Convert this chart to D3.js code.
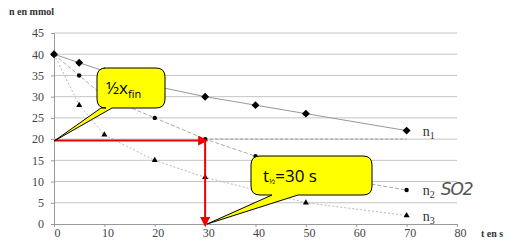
<!DOCTYPE html>
<html><head><meta charset="utf-8">
<script src="https://cdn.jsdelivr.net/npm/d3@7"></script>
<style>body{margin:0;background:#fff}svg{display:block}</style>
</head><body>
<svg id="c" width="517" height="248"></svg>
<script>
const times = [0, 5, 10, 20, 30, 40, 50, 70];
const n1 = [40, 38, 36, 32.5, 30, 28, 26, 22];
const n2 = [40, 35, 30, 25, 20, 16, 12, 8];
const n3 = [40, 28, 21, 15, 11, 8, 5, 2];
const xTicks = [0, 10, 20, 30, 40, 50, 60, 70, 80];
const yTicks = [0, 5, 10, 15, 20, 25, 30, 35, 40, 45];
const seriesNames = ["1", "2", "3"];
const halfTime = 30, halfValue = 20;

const svg = d3.select("#c");
const x = d3.scaleLinear().domain([0, 80]).range([54, 457]);
const y = d3.scaleLinear().domain([0, 45]).range([224, 33]);
const serif = "'Liberation Serif', 'Times New Roman', serif";

// gridlines
svg.append("g").selectAll("line").data(yTicks.filter(d => d > 0)).join("line")
  .attr("x1", x(0)).attr("x2", x(80)).attr("y1", d => y(d)).attr("y2", d => y(d))
  .attr("stroke", "#c4c4c4").attr("stroke-width", 1);

// axes
const xa = svg.append("g").attr("transform", `translate(0,${y(0)})`)
  .call(d3.axisBottom(x).tickValues(xTicks).tickSize(3).tickFormat(d3.format("d")));
xa.attr("font-family", null);
xa.select(".domain").attr("stroke", "#999");
xa.selectAll(".tick line").attr("stroke", "#999");
xa.selectAll("text").style("font-family", serif).style("font-size", "12px").attr("fill", "#444").attr("dx", 3).attr("dy", 7);

const ya = svg.append("g").attr("transform", `translate(${x(0)},0)`)
  .call(d3.axisLeft(y).tickValues(yTicks).tickSize(3).tickFormat(d3.format("d")));
ya.attr("font-family", null);
ya.select(".domain").attr("stroke", "#999");
ya.selectAll(".tick line").attr("stroke", "#999");
ya.selectAll("text").style("font-family", serif).style("font-size", "12px").attr("fill", "#444").attr("dx", -4);

// dashed line at half value
svg.append("line").attr("x1", x(halfTime)).attr("x2", x(70)).attr("y1", y(halfValue)).attr("y2", y(halfValue))
  .attr("stroke", "#999").attr("stroke-dasharray", "3,2");

// series lines
const line = d3.line().x((d, i) => x(times[i])).y(d => y(d));
svg.append("path").datum(n1).attr("d", line).attr("fill", "none").attr("stroke", "#999").attr("stroke-width", 1);
svg.append("path").datum(n2).attr("d", line).attr("fill", "none").attr("stroke", "#aaa").attr("stroke-width", 1).attr("stroke-dasharray", "4,2");
svg.append("path").datum(n3).attr("d", line).attr("fill", "none").attr("stroke", "#b8b8b8").attr("stroke-width", 1).attr("stroke-dasharray", "2,2");

// markers
svg.append("g").selectAll("path").data(n1).join("path")
  .attr("d", d3.symbol(d3.symbolDiamond2, 40))
  .attr("transform", (d, i) => `translate(${x(times[i])},${y(d)})`).attr("fill", "#000");
svg.append("g").selectAll("circle").data(n2).join("circle")
  .attr("cx", (d, i) => x(times[i])).attr("cy", d => y(d)).attr("r", 2.2).attr("fill", "#000");
svg.append("g").selectAll("path").data(n3).join("path")
  .attr("d", d3.symbol(d3.symbolTriangle, 16))
  .attr("transform", (d, i) => `translate(${x(times[i])},${y(d)})`).attr("fill", "#000");

// series labels
const lastIdx = times.length - 1;
[n1, n2, n3].forEach((s, k) => {
  const t = svg.append("text").attr("x", x(times[lastIdx]) + 16).attr("y", y(s[lastIdx]) + 5)
    .style("font-family", serif).style("font-size", "14px").attr("fill", "#333");
  t.append("tspan").text("n");
  t.append("tspan").style("font-size", "10px").attr("dy", 3).text(seriesNames[k]);
});
svg.append("text").attr("x", x(70) + 34).attr("y", y(n2[lastIdx]) + 5)
  .style("font-family", "'DejaVu Sans', sans-serif").style("font-size", "17px").attr("fill", "#555")
  .style("font-style", "italic").attr("letter-spacing", -1).text("SO2");

// red arrows
svg.append("defs").html(`
 <marker id="ar" viewBox="0 0 10 10" refX="8" refY="5" markerWidth="5" markerHeight="5" orient="auto">
  <path d="M0,0 L10,5 L0,10 z" fill="#e00"/></marker>`);
svg.append("line").attr("x1", x(0) + 1).attr("x2", x(halfTime) + 1).attr("y1", y(halfValue) + 1.5).attr("y2", y(halfValue) + 1.5)
  .attr("stroke", "#e00").attr("stroke-width", 2).attr("marker-end", "url(#ar)");
svg.append("line").attr("x1", x(halfTime)).attr("x2", x(halfTime)).attr("y1", y(halfValue) + 1).attr("y2", y(0) + 1)
  .attr("stroke", "#e00").attr("stroke-width", 2).attr("marker-end", "url(#ar)");

// callouts
function callout(bx, by, bw, bh, b1, b2, tip) {
  const r = 9;
  const p = `M${bx + r},${by} H${bx + bw - r} Q${bx + bw},${by} ${bx + bw},${by + r} V${by + bh - r} Q${bx + bw},${by + bh} ${bx + bw - r},${by + bh} H${b2} L${tip[0]},${tip[1]} L${b1},${by + bh} H${bx + r} Q${bx},${by + bh} ${bx},${by + bh - r} V${by + r} Q${bx},${by} ${bx + r},${by} Z`;
  svg.append("path").attr("d", p).attr("fill", "#ffff00").attr("stroke", "#000").attr("stroke-width", 1);
}
callout(97, 68, 68, 40, 101, 112, [x(0), y(halfValue) + 2]);
callout(251, 156, 121, 39, 272, 298, [x(halfTime) + 2, y(0)]);

const sans = "'Open Sans', 'Liberation Sans', sans-serif";
const t1 = svg.append("text").attr("x", 106).attr("y", 94).style("font-family", sans).style("font-size", "17px").attr("fill", "#000");
t1.append("tspan").text("½x");
t1.append("tspan").style("font-size", "11px").attr("dy", 4).text("fin");
const t2 = svg.append("text").attr("x", 263).attr("y", 182).style("font-family", sans).style("font-size", "17px").attr("fill", "#000");
t2.append("tspan").text("t");
t2.append("tspan").style("font-size", "8px").attr("dy", 2).text("½");
t2.append("tspan").attr("dy", -2).text("=30 s");

// axis titles
svg.append("text").attr("x", 9).attr("y", 15).style("font-family", serif).style("font-weight", "bold")
  .style("font-size", "10px").attr("fill", "#333").text("n en mmol");
svg.append("text").attr("x", 481).attr("y", 237).style("font-family", serif).style("font-weight", "bold")
  .style("font-size", "10px").attr("fill", "#333").text("t en s");
</script>
</body></html>
